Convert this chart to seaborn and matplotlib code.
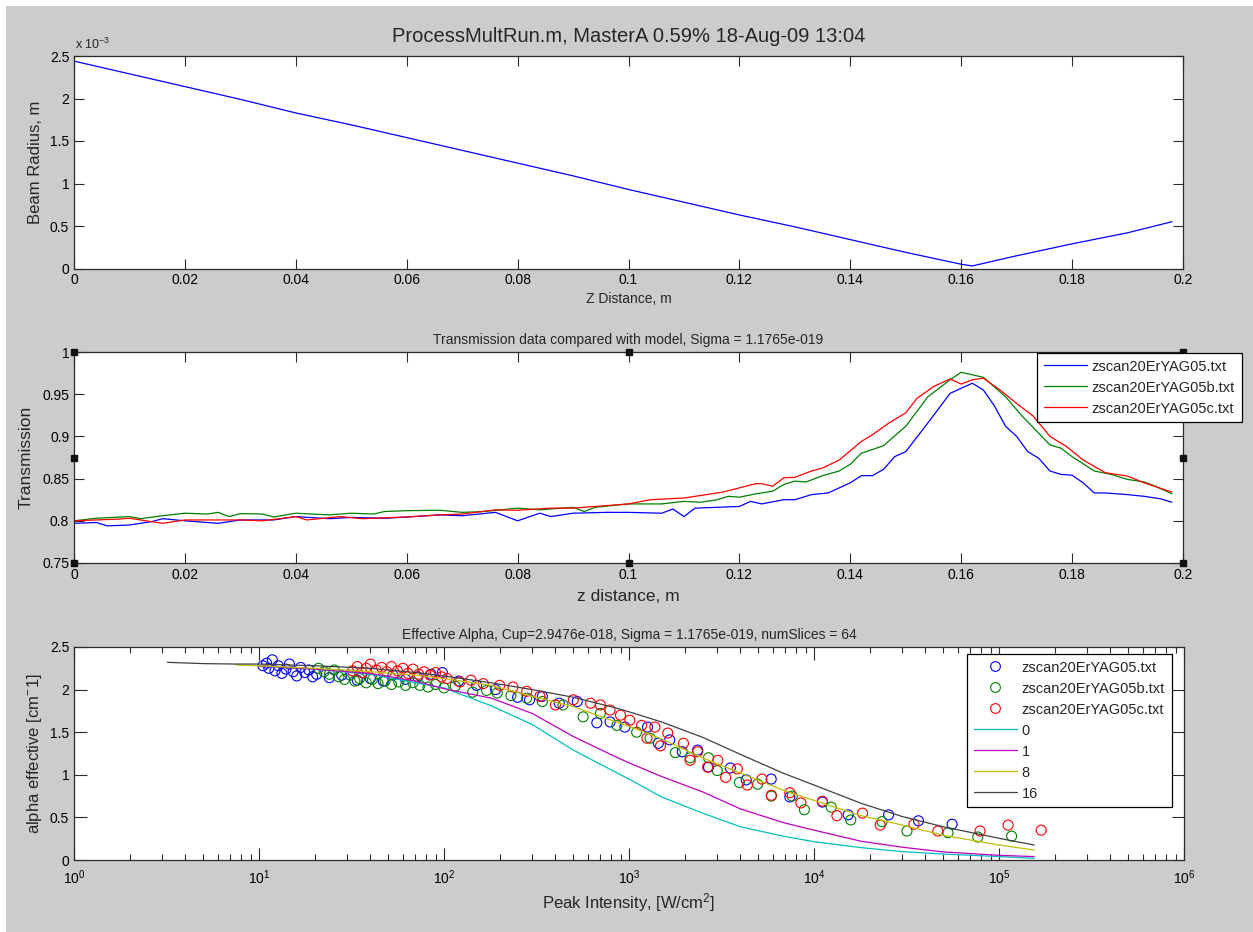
import numpy as np
import pandas as pd
import seaborn as sns
import matplotlib
matplotlib.use('Agg')
import matplotlib.pyplot as plt
from matplotlib.lines import Line2D
from matplotlib.patches import Rectangle
from matplotlib.ticker import FuncFormatter, LogLocator, NullFormatter, MultipleLocator, FixedLocator

nan = np.nan

# ---- top panel: beam radius (units of 1e-3 m) ----
z_beam = [0, .01, .02, .03, .04, .05, .06, .07, .08, .09, .10, .11, .12, .13, .14,
          .15, .16, .162, .17, .18, .19, .198]
beam_radius_e3 = [2.44, 2.29, 2.14, 1.99, 1.83, 1.69, 1.54, 1.39, 1.24, 1.09, 0.93,
                  0.78, 0.63, 0.49, 0.34, 0.19, 0.05, 0.03, 0.15, 0.29, 0.42, 0.55]

# ---- middle panel: transmission ----
files = ['zscan20ErYAG05.txt', 'zscan20ErYAG05b.txt', 'zscan20ErYAG05c.txt']

z_blue = [0, 0.004, 0.006, 0.010, 0.014, 0.016, 0.020, 0.026, 0.030, 0.036,
          0.040, 0.046, 0.050, 0.056, 0.060, 0.066, 0.070, 0.076, 0.080, 0.084,
          0.086, 0.090, 0.096, 0.100, 0.106, 0.108, 0.110, 0.112, 0.120, 0.122,
          0.124, 0.128, 0.130, 0.133, 0.136, 0.140, 0.142, 0.144, 0.146, 0.148,
          0.150, 0.154, 0.158, 0.162, 0.164, 0.166, 0.168, 0.170, 0.172, 0.174,
          0.176, 0.178, 0.180, 0.182, 0.184, 0.186, 0.190, 0.193, 0.196, 0.198]
t_blue = [0.797, 0.798, 0.794, 0.795, 0.799, 0.8025, 0.800, 0.797, 0.801, 0.801,
          0.805, 0.8025, 0.804, 0.803, 0.8045, 0.807, 0.806, 0.810, 0.800, 0.809,
          0.805, 0.809, 0.810, 0.810, 0.809, 0.814, 0.805, 0.815, 0.817, 0.823,
          0.820, 0.825, 0.825, 0.831, 0.833, 0.845, 0.8535, 0.8535, 0.861, 0.876,
          0.882, 0.916, 0.951, 0.963, 0.955, 0.936, 0.912, 0.900, 0.882, 0.874,
          0.859, 0.855, 0.854, 0.845, 0.833, 0.833, 0.831, 0.829, 0.826, 0.822]

z_green = [0, 0.004, 0.010, 0.012, 0.016, 0.020, 0.024, 0.026, 0.028, 0.030,
           0.034, 0.036, 0.040, 0.046, 0.050, 0.054, 0.056, 0.060, 0.066, 0.070,
           0.074, 0.080, 0.084, 0.090, 0.092, 0.094, 0.100, 0.106, 0.110, 0.113,
           0.116, 0.118, 0.120, 0.123, 0.126, 0.128, 0.130, 0.132, 0.135, 0.138,
           0.140, 0.142, 0.146, 0.150, 0.154, 0.158, 0.160, 0.162, 0.164, 0.168,
           0.171, 0.176, 0.178, 0.180, 0.184, 0.187, 0.190, 0.193, 0.195, 0.198]
t_green = [0.800, 0.803, 0.805, 0.8025, 0.806, 0.809, 0.808, 0.810, 0.805, 0.8085,
           0.808, 0.8045, 0.809, 0.807, 0.809, 0.808, 0.811, 0.812, 0.8125, 0.810,
           0.811, 0.815, 0.813, 0.816, 0.811, 0.816, 0.820, 0.820, 0.823, 0.822,
           0.825, 0.829, 0.828, 0.832, 0.835, 0.843, 0.847, 0.846, 0.8535, 0.859,
           0.867, 0.880, 0.889, 0.912, 0.947, 0.967, 0.976, 0.973, 0.970, 0.947,
           0.924, 0.890, 0.886, 0.876, 0.859, 0.855, 0.849, 0.846, 0.841, 0.832]

z_red = [0, 0.008, 0.010, 0.016, 0.020, 0.030, 0.034, 0.040, 0.042, 0.048,
         0.052, 0.060, 0.066, 0.070, 0.076, 0.080, 0.086, 0.090, 0.100, 0.104,
         0.110, 0.113, 0.117, 0.120, 0.123, 0.124, 0.126, 0.128, 0.130, 0.133,
         0.135, 0.138, 0.140, 0.142, 0.144, 0.147, 0.150, 0.152, 0.155, 0.158,
         0.160, 0.162, 0.164, 0.167, 0.170, 0.173, 0.176, 0.179, 0.182, 0.186,
         0.190, 0.193, 0.198]
t_red = [0.800, 0.802, 0.803, 0.797, 0.801, 0.801, 0.800, 0.805, 0.801, 0.805,
         0.8025, 0.8045, 0.807, 0.808, 0.813, 0.8125, 0.815, 0.815, 0.820, 0.825,
         0.827, 0.830, 0.834, 0.839, 0.844, 0.844, 0.841, 0.851, 0.8515, 0.859,
         0.8625, 0.872, 0.883, 0.894, 0.902, 0.916, 0.928, 0.945, 0.959, 0.968,
         0.962, 0.967, 0.969, 0.955, 0.939, 0.924, 0.900, 0.888, 0.872, 0.857,
         0.853, 0.845, 0.834]

# ---- bottom panel: effective alpha vs peak intensity ----
i_blue = [10.5, 11, 11.3, 11.8, 12.2, 12.7, 13.3, 14, 14.6, 15.3,
          16, 16.8, 17.7, 18.6, 19.5, 20.5, 24, 28, 34, 40,
          47, 53, 62, 72, 85, 98, 120, 150, 190, 250,
          290, 340, 420, 525, 670, 790, 950, 1260, 1440, 1660,
          1940, 2350, 2690, 3530, 4300, 5870, 7400, 11100, 15300, 25300,
          36700, 55800]
a_blue = [2.28, 2.31, 2.25, 2.35, 2.22, 2.28, 2.19, 2.24, 2.30, 2.21,
          2.16, 2.26, 2.20, 2.23, 2.15, 2.18, 2.14, 2.17, 2.11, 2.13,
          2.10, 2.17, 2.12, 2.15, 2.18, 2.20, 2.10, 2.05, 2.00, 1.91,
          1.88, 1.92, 1.84, 1.86, 1.61, 1.62, 1.56, 1.56, 1.37, 1.41,
          1.27, 1.29, 1.09, 1.08, 0.94, 0.95, 0.74, 0.68, 0.53, 0.53,
          0.46, 0.42]

i_green = [21, 22.5, 24, 25.5, 27, 29, 31, 33, 35, 38,
           41, 44, 48, 52, 57, 62, 68, 74, 82, 90,
           100, 115, 143, 170, 194, 230, 280, 340, 440, 565,
           700, 860, 1100, 1300, 1780, 2140, 2690, 3000, 3950, 4960,
           5880, 7620, 8870, 12400, 15800, 23300, 31800, 53000, 76800, 117000]
a_green = [2.25, 2.21, 2.18, 2.23, 2.15, 2.12, 2.17, 2.10, 2.13, 2.08,
           2.12, 2.07, 2.10, 2.06, 2.09, 2.05, 2.08, 2.05, 2.03, 2.06,
           2.02, 2.04, 1.97, 1.99, 1.96, 1.93, 1.90, 1.86, 1.82, 1.68,
           1.72, 1.58, 1.50, 1.43, 1.26, 1.20, 1.20, 1.05, 0.91, 0.89,
           0.75, 0.75, 0.59, 0.62, 0.47, 0.45, 0.34, 0.32, 0.27, 0.28]

i_red = [32, 34, 36, 38, 40, 43, 46, 49, 52, 56,
         60, 64, 68, 73, 78, 84, 90, 97, 104, 122,
         140, 163, 200, 236, 280, 330, 400, 500, 620, 700,
         790, 900, 1010, 1170, 1250, 1380, 1480, 1620, 1970, 2140,
         2350, 2660, 3020, 3330, 3850, 4360, 5230, 5880, 7400, 8500,
         11100, 13300, 18300, 22800, 34700, 46700, 79000, 112000, 169000]
a_red = [2.22, 2.27, 2.20, 2.25, 2.30, 2.23, 2.26, 2.21, 2.27, 2.22,
         2.25, 2.19, 2.24, 2.18, 2.21, 2.17, 2.20, 2.15, 2.13, 2.09,
         2.11, 2.07, 2.05, 2.03, 1.98, 1.92, 1.82, 1.88, 1.84, 1.82,
         1.76, 1.70, 1.64, 1.58, 1.43, 1.56, 1.34, 1.49, 1.37, 1.17,
         1.27, 1.09, 1.17, 0.97, 1.07, 0.88, 0.95, 0.76, 0.79, 0.67,
         0.69, 0.52, 0.55, 0.41, 0.42, 0.34, 0.34, 0.41, 0.35]

model_I = [3.2, 5, 7.5, 10, 20, 40, 70, 100, 180, 300, 500, 830, 1000, 1500,
           2500, 4000, 6800, 10000, 18000, 30000, 50000, 100000, 155000]
model_0 = [nan, nan, nan, 2.28, 2.24, 2.18, 2.08, 2.02, 1.81, 1.59, 1.29, 1.04, 0.95,
           0.74, 0.55, 0.39, 0.28, 0.215, 0.145, 0.098, 0.07, 0.04, 0.02]
model_1 = [nan, nan, nan, 2.28, 2.24, 2.19, 2.10, 2.01, 1.90, 1.72, 1.45, 1.22, 1.14,
           0.98, 0.80, 0.60, 0.44, 0.35, 0.22, 0.15, 0.095, 0.055, 0.04]
model_8 = [nan, nan, 2.29, 2.28, 2.25, 2.21, 2.17, 2.13, 2.05, 1.92, 1.80, 1.63, 1.57,
           1.42, 1.20, 1.02, 0.82, 0.70, 0.52, 0.41, 0.29, 0.176, 0.117]
model_16 = [2.32, 2.305, 2.30, 2.30, 2.28, 2.25, 2.20, 2.16, 2.08, 2.00, 1.91, 1.79, 1.74,
            1.62, 1.44, 1.24, 1.02, 0.88, 0.665, 0.51, 0.39, 0.255, 0.176]
slice_labels = ['0', '1', '8', '16']

data_colors = ['#0000ff', '#008000', '#ff0000']
model_colors = ['#00bfbf', '#bf00bf', '#bfbf00', '#404040']

# ---- style ----
sns.set_style('ticks')
plt.rcParams['font.family'] = ['Liberation Sans', 'DejaVu Sans']
plt.rcParams['mathtext.fontset'] = 'custom'
plt.rcParams['mathtext.rm'] = 'Liberation Sans'
plt.rcParams['mathtext.default'] = 'regular'

W, H = 1253, 932
fig = plt.figure(figsize=(W / 100, H / 100), dpi=100, facecolor='white')
fig.patches.append(Rectangle((6 / W, 0), 1, 1 - 6 / H, transform=fig.transFigure,
                             facecolor='#cccccc', edgecolor='none', zorder=-10))


def px_axes(left, top, right, bottom):
    return fig.add_axes([left / W, 1 - bottom / H, (right - left) / W, (bottom - top) / H])


def matlab_look(ax):
    ax.set_facecolor('white')
    for s in ax.spines.values():
        s.set_visible(True)
        s.set_color('#2b2b2b')
        s.set_linewidth(0.9)
    ax.tick_params(which='both', direction='in', top=True, right=True,
                   color='#2b2b2b', labelcolor='black', labelsize=10, width=0.8)
    ax.tick_params(which='major', length=7.5)
    ax.tick_params(which='minor', length=3.5)
    ax.grid(False)


fmt_g = FuncFormatter(lambda v, p: '%g' % round(v, 6))
leg_kw = dict(loc='upper left', bbox_transform=fig.transFigure, borderaxespad=0,
              fontsize=10.5, frameon=True, fancybox=False, edgecolor='black',
              framealpha=1, handlelength=3.0, handletextpad=0.3,
              labelspacing=0.48, borderpad=0.45)

# ---- top ----
ax1 = px_axes(74, 56, 1183, 268.5)
sns.lineplot(x=z_beam, y=beam_radius_e3, ax=ax1, color='#0000ff', lw=0.9,
             sort=False, estimator=None)
ax1.set_xlim(0, 0.2)
ax1.set_ylim(0, 2.5)
ax1.xaxis.set_major_locator(MultipleLocator(0.02))
ax1.yaxis.set_major_locator(MultipleLocator(0.5))
ax1.xaxis.set_major_formatter(fmt_g)
ax1.yaxis.set_major_formatter(fmt_g)
matlab_look(ax1)
ax1.set_xlabel('Z Distance, m', fontsize=10, labelpad=3)
ax1.set_ylabel('Beam Radius, m', fontsize=12, labelpad=5)
ax1.set_title('ProcessMultRun.m, MasterA 0.59% 18-Aug-09 13:04', fontsize=14.5, pad=10)
ax1.text(0.001, 1.02, r'x 10$^{-3}$', transform=ax1.transAxes, fontsize=9,
         ha='left', va='bottom')

# ---- middle ----
ax2 = px_axes(74, 352, 1183, 563)
trans = pd.concat([
    pd.DataFrame({'z': z_blue, 'T': t_blue, 'file': files[0]}),
    pd.DataFrame({'z': z_green, 'T': t_green, 'file': files[1]}),
    pd.DataFrame({'z': z_red, 'T': t_red, 'file': files[2]}),
], ignore_index=True)
sns.lineplot(data=trans, x='z', y='T', hue='file', hue_order=files,
             palette=dict(zip(files, data_colors)), estimator=None, sort=False,
             lw=0.9, ax=ax2, legend=False)
ax2.set_xlim(0, 0.2)
ax2.set_ylim(0.75, 1)
ax2.xaxis.set_major_locator(MultipleLocator(0.02))
ax2.yaxis.set_major_locator(MultipleLocator(0.05))
ax2.xaxis.set_major_formatter(fmt_g)
ax2.yaxis.set_major_formatter(fmt_g)
matlab_look(ax2)
ax2.set_xlabel('z distance, m', fontsize=12.5, labelpad=5)
ax2.set_ylabel('Transmission', fontsize=12.5, labelpad=6)
ax2.set_title('Transmission data compared with model, Sigma = 1.1765e-019',
              fontsize=10, pad=6)
# selection handles of the MATLAB axes
hx = [0, 0.5, 1, 0, 1, 0, 0.5, 1]
hy = [0, 0, 0, 0.5, 0.5, 1, 1, 1]
ax2.plot(hx, hy, 's', color='#111111', ms=5, transform=ax2.transAxes,
         clip_on=False, zorder=6)
h2 = [Line2D([], [], color=c, lw=0.9) for c in data_colors]
leg2 = ax2.legend(h2, files, bbox_to_anchor=(1037 / W, 1 - 353 / H), **leg_kw)
leg2.get_frame().set_linewidth(0.9)
leg2.set_zorder(10)

# ---- bottom ----
ax3 = px_axes(74, 647, 1184, 860)
ax3.set_xscale('log')
for xs, ys, c in [(i_blue, a_blue, data_colors[0]),
                  (i_green, a_green, data_colors[1]),
                  (i_red, a_red, data_colors[2])]:
    sns.scatterplot(x=xs, y=ys, ax=ax3, marker='o', s=52, color=c,
                    facecolor='none', edgecolor=c, linewidth=0.8, legend=False)
model = pd.DataFrame({'I': model_I, '0': model_0, '1': model_1, '8': model_8,
                      '16': model_16})
model = model.melt(id_vars='I', var_name='slices', value_name='alpha').dropna()
sns.lineplot(data=model, x='I', y='alpha', hue='slices', hue_order=slice_labels,
             palette=dict(zip(slice_labels, model_colors)), estimator=None,
             sort=False, lw=0.9, ax=ax3, legend=False)
ax3.set_xlim(1, 1e6)
ax3.set_ylim(0, 2.5)
ax3.xaxis.set_major_locator(FixedLocator([1e0, 1e1, 1e2, 1e3, 1e4, 1e5, 1e6]))
ax3.xaxis.set_minor_locator(LogLocator(base=10, subs=np.arange(2, 10), numticks=100))
ax3.xaxis.set_minor_formatter(NullFormatter())
ax3.yaxis.set_major_locator(MultipleLocator(0.5))
ax3.yaxis.set_major_formatter(fmt_g)
matlab_look(ax3)
ax3.tick_params(which='major', length=9)
ax3.tick_params(which='minor', length=4.5)
ax3.tick_params(axis='x', which='major', pad=6)
ax3.set_xlabel('Peak Intensity, [W/cm$^{2}$]', fontsize=12, labelpad=3)
ax3.set_ylabel('alpha effective [cm$^{-}$1]', fontsize=12, labelpad=4)
ax3.set_title('Effective Alpha, Cup=2.9476e-018, Sigma = 1.1765e-019, numSlices = 64',
              fontsize=10, pad=6)
h3 = [Line2D([], [], marker='o', ls='none', mfc='none', mec=c, ms=7, mew=0.8)
      for c in data_colors]
h3 += [Line2D([], [], color=c, lw=0.9) for c in model_colors]
leg3 = ax3.legend(h3, files + slice_labels, bbox_to_anchor=(967 / W, 1 - 654 / H), **leg_kw)
leg3.get_frame().set_linewidth(0.9)

fig.savefig('out.png', dpi=100, facecolor=fig.get_facecolor())
